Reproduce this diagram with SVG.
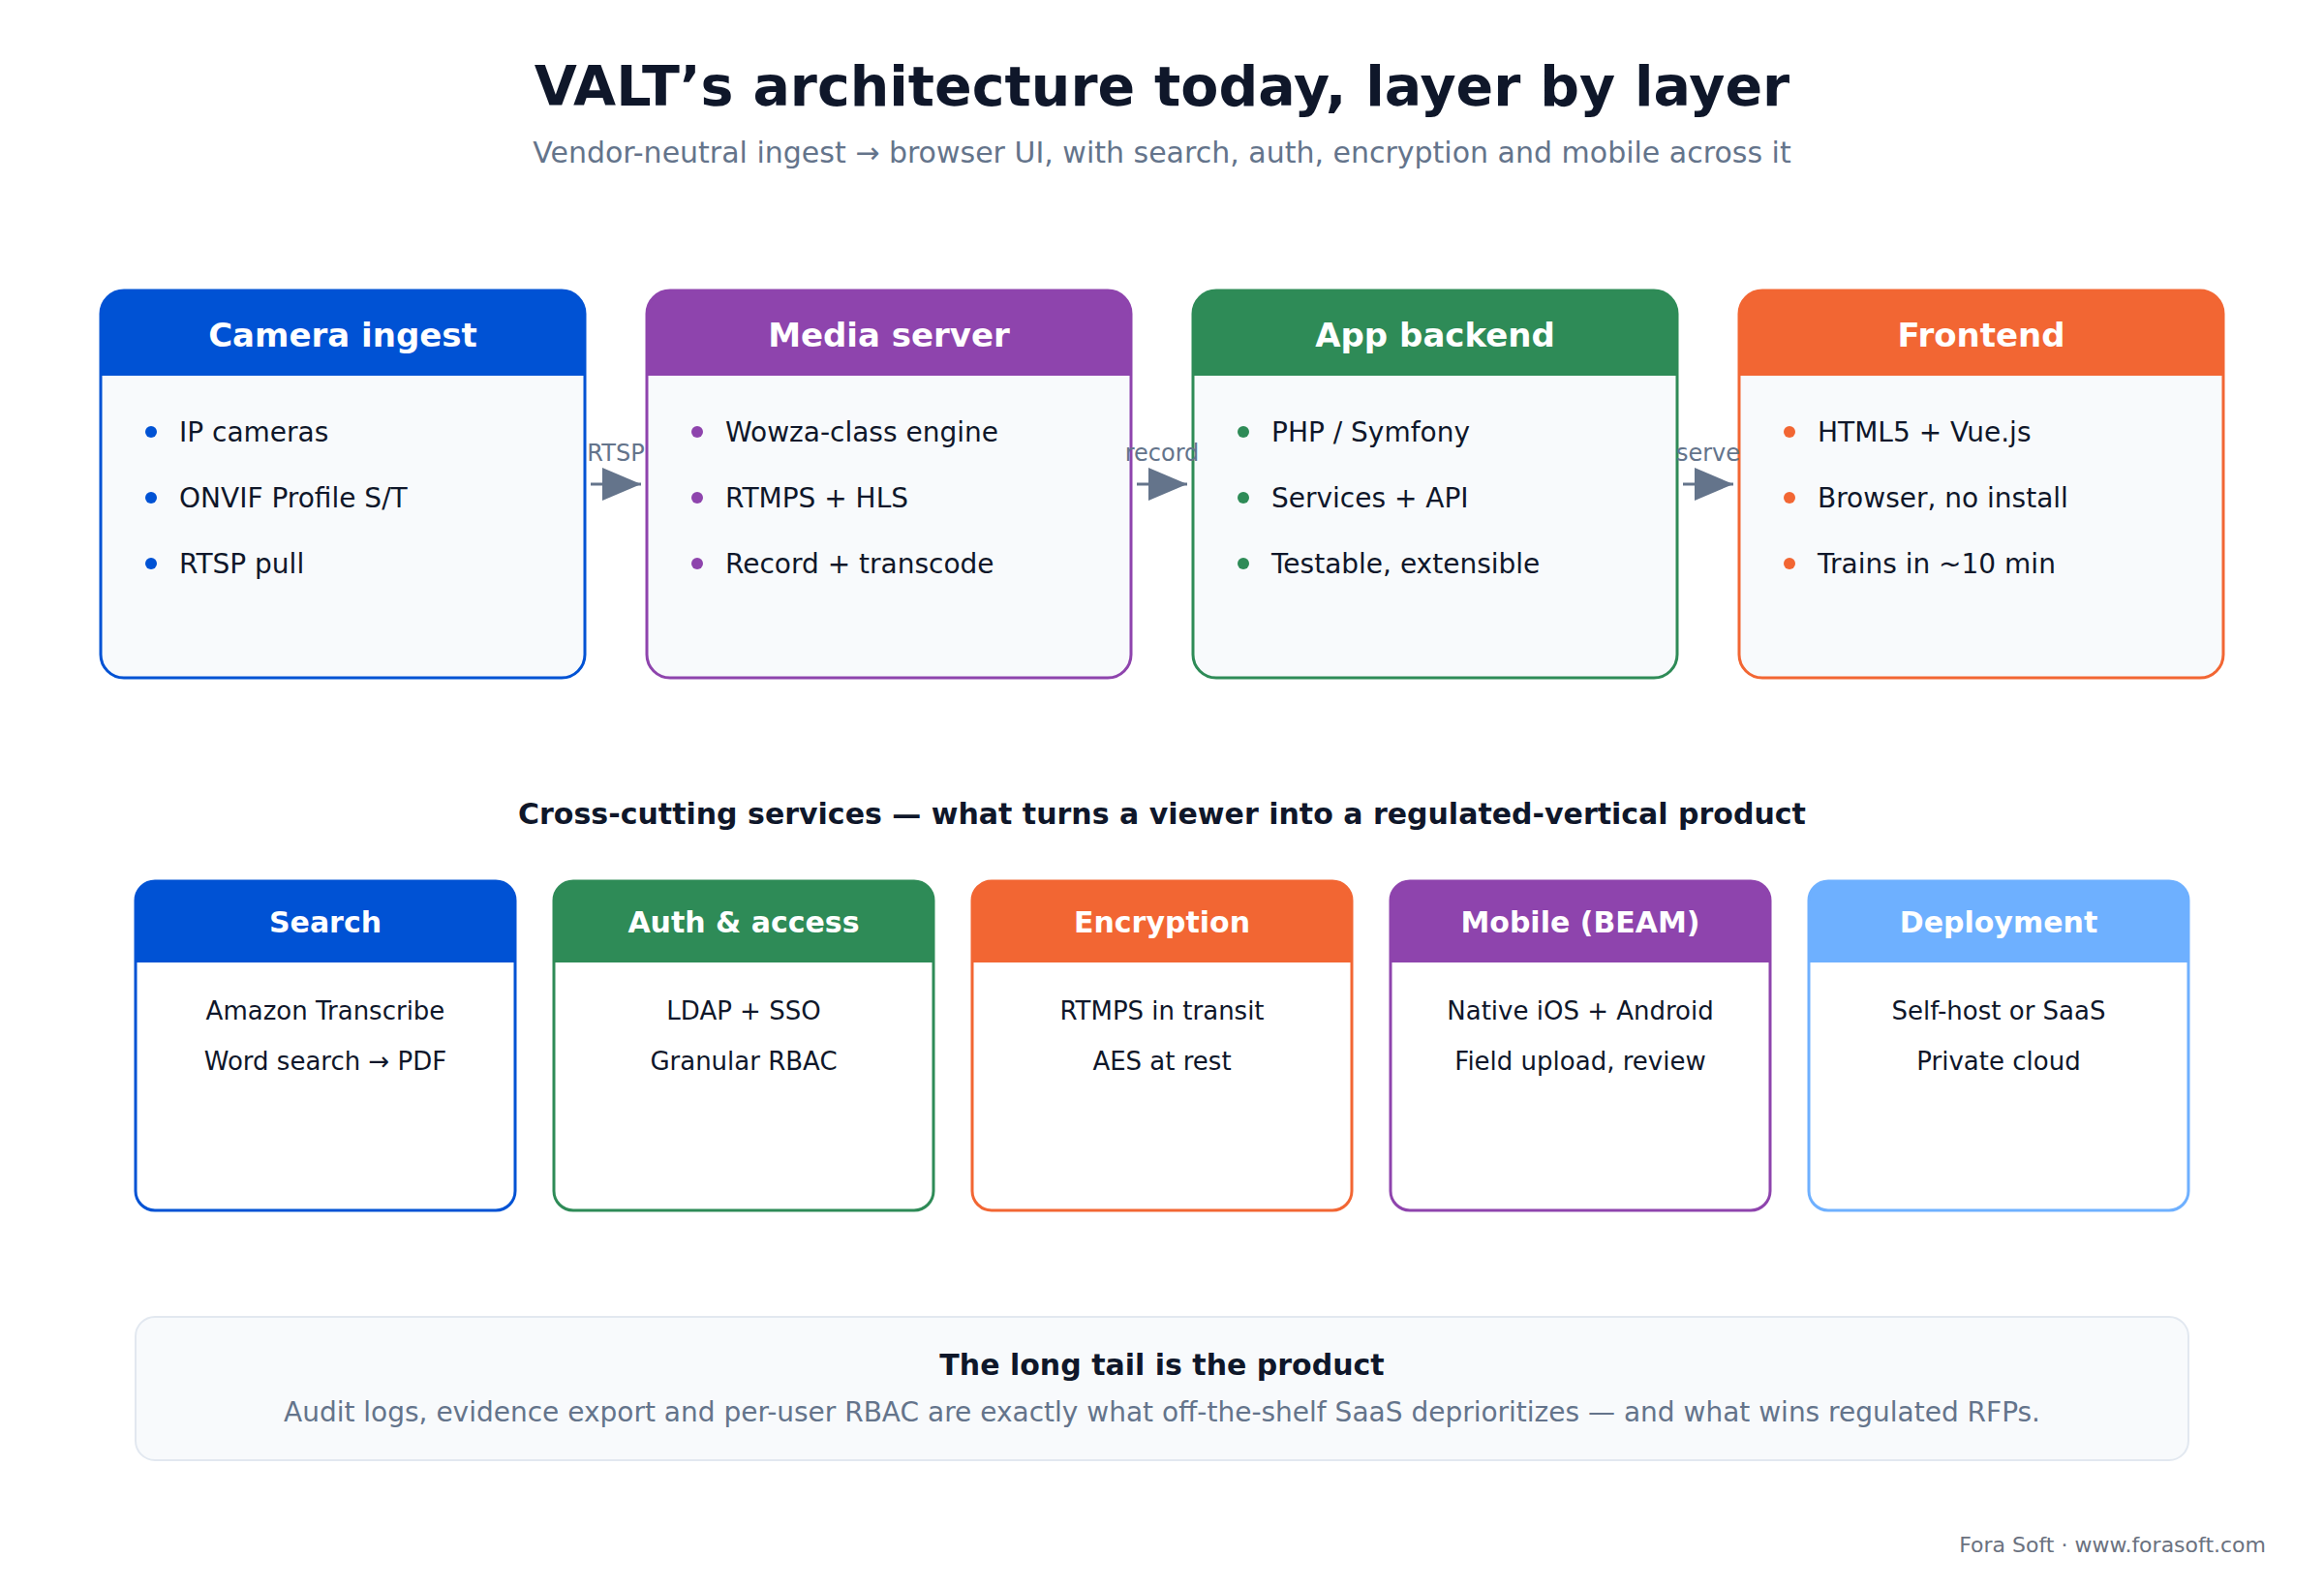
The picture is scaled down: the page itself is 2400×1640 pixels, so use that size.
<svg xmlns="http://www.w3.org/2000/svg" width="2400" height="1640" viewBox="0 0 2400 1640">
<style>
text{font-family:"DejaVu Sans","Noto Sans",sans-serif}
.title{font-size:57px;font-weight:bold;fill:#0f172a;text-anchor:middle}
.sub{font-size:30px;fill:#64748b;text-anchor:middle}
.body{fill:#f8fafc}
.hdr{font-size:34px;font-weight:bold;fill:#ffffff;text-anchor:middle}
.item{font-size:28px;fill:#0f172a}
.shdr{font-size:30px;font-weight:bold;fill:#ffffff;text-anchor:middle}
.sitem{font-size:26px;fill:#0f172a;text-anchor:middle}
.lbl{font-size:24px;fill:#64748b;text-anchor:middle}
.conn{stroke:#64748b;stroke-width:3;fill:none}
.sect{font-size:30px;font-weight:bold;fill:#0f172a;text-anchor:middle}
.foot{font-size:22px;fill:#6b7280;text-anchor:end}
</style>
<defs>
<marker id="arrow" markerUnits="userSpaceOnUse" markerWidth="40" markerHeight="34" viewBox="0 0 40 34" refX="40" refY="17" orient="auto">
<path d="M0,0 L40,17 L0,34 Z" fill="#64748b"/>
</marker>
</defs>
<rect width="2400" height="1640" fill="#ffffff"/>
<text class="title" x="1200" y="109">VALT’s architecture today, layer by layer</text>
<text class="sub" x="1200" y="168">Vendor-neutral ingest → browser UI, with search, auth, encryption and mobile across it</text>

<g id="camera-ingest" transform="translate(104,300)">
<rect class="body" x="0" y="0" width="500" height="400" rx="24"/>
<path d="M0,88 V24 A24,24 0 0 1 24,0 H476 A24,24 0 0 1 500,24 V88 Z" fill="#0052d4"/>
<rect x="0" y="0" width="500" height="400" rx="24" fill="none" stroke="#0052d4" stroke-width="3"/>
<text class="hdr" x="250" y="58">Camera ingest</text>
<circle cx="52" cy="146" r="6" fill="#0052d4"/><text class="item" x="81" y="156">IP cameras</text>
<circle cx="52" cy="214" r="6" fill="#0052d4"/><text class="item" x="81" y="224">ONVIF Profile S/T</text>
<circle cx="52" cy="282" r="6" fill="#0052d4"/><text class="item" x="81" y="292">RTSP pull</text>
</g>

<g id="media-server" transform="translate(668,300)">
<rect class="body" x="0" y="0" width="500" height="400" rx="24"/>
<path d="M0,88 V24 A24,24 0 0 1 24,0 H476 A24,24 0 0 1 500,24 V88 Z" fill="#8e44ad"/>
<rect x="0" y="0" width="500" height="400" rx="24" fill="none" stroke="#8e44ad" stroke-width="3"/>
<text class="hdr" x="250" y="58">Media server</text>
<circle cx="52" cy="146" r="6" fill="#8e44ad"/><text class="item" x="81" y="156">Wowza-class engine</text>
<circle cx="52" cy="214" r="6" fill="#8e44ad"/><text class="item" x="81" y="224">RTMPS + HLS</text>
<circle cx="52" cy="282" r="6" fill="#8e44ad"/><text class="item" x="81" y="292">Record + transcode</text>
</g>

<g id="app-backend" transform="translate(1232,300)">
<rect class="body" x="0" y="0" width="500" height="400" rx="24"/>
<path d="M0,88 V24 A24,24 0 0 1 24,0 H476 A24,24 0 0 1 500,24 V88 Z" fill="#2e8b57"/>
<rect x="0" y="0" width="500" height="400" rx="24" fill="none" stroke="#2e8b57" stroke-width="3"/>
<text class="hdr" x="250" y="58">App backend</text>
<circle cx="52" cy="146" r="6" fill="#2e8b57"/><text class="item" x="81" y="156">PHP / Symfony</text>
<circle cx="52" cy="214" r="6" fill="#2e8b57"/><text class="item" x="81" y="224">Services + API</text>
<circle cx="52" cy="282" r="6" fill="#2e8b57"/><text class="item" x="81" y="292">Testable, extensible</text>
</g>

<g id="frontend" transform="translate(1796,300)">
<rect class="body" x="0" y="0" width="500" height="400" rx="24"/>
<path d="M0,88 V24 A24,24 0 0 1 24,0 H476 A24,24 0 0 1 500,24 V88 Z" fill="#f26633"/>
<rect x="0" y="0" width="500" height="400" rx="24" fill="none" stroke="#f26633" stroke-width="3"/>
<text class="hdr" x="250" y="58">Frontend</text>
<circle cx="52" cy="146" r="6" fill="#f26633"/><text class="item" x="81" y="156">HTML5 + Vue.js</text>
<circle cx="52" cy="214" r="6" fill="#f26633"/><text class="item" x="81" y="224">Browser, no install</text>
<circle cx="52" cy="282" r="6" fill="#f26633"/><text class="item" x="81" y="292">Trains in ~10 min</text>
</g>

<g id="connectors">
<line class="conn" x1="610" y1="500" x2="662" y2="500" marker-end="url(#arrow)"/>
<text class="lbl" x="636" y="476">RTSP</text>
<line class="conn" x1="1174" y1="500" x2="1226" y2="500" marker-end="url(#arrow)"/>
<text class="lbl" x="1200" y="476">record</text>
<line class="conn" x1="1738" y1="500" x2="1790" y2="500" marker-end="url(#arrow)"/>
<text class="lbl" x="1764" y="476">serve</text>
</g>

<text class="sect" x="1200" y="851">Cross-cutting services — what turns a viewer into a regulated-vertical product</text>

<g id="search" transform="translate(140,910)">
<rect x="0" y="0" width="392" height="340" rx="20" fill="#ffffff"/>
<path d="M0,84 V20 A20,20 0 0 1 20,0 H372 A20,20 0 0 1 392,20 V84 Z" fill="#0052d4"/>
<rect x="0" y="0" width="392" height="340" rx="20" fill="none" stroke="#0052d4" stroke-width="3"/>
<text class="shdr" x="196" y="53">Search</text>
<text class="sitem" x="196" y="143">Amazon Transcribe</text>
<text class="sitem" x="196" y="195">Word search → PDF</text>
</g>

<g id="auth-access" transform="translate(572,910)">
<rect x="0" y="0" width="392" height="340" rx="20" fill="#ffffff"/>
<path d="M0,84 V20 A20,20 0 0 1 20,0 H372 A20,20 0 0 1 392,20 V84 Z" fill="#2e8b57"/>
<rect x="0" y="0" width="392" height="340" rx="20" fill="none" stroke="#2e8b57" stroke-width="3"/>
<text class="shdr" x="196" y="53">Auth &amp; access</text>
<text class="sitem" x="196" y="143">LDAP + SSO</text>
<text class="sitem" x="196" y="195">Granular RBAC</text>
</g>

<g id="encryption" transform="translate(1004,910)">
<rect x="0" y="0" width="392" height="340" rx="20" fill="#ffffff"/>
<path d="M0,84 V20 A20,20 0 0 1 20,0 H372 A20,20 0 0 1 392,20 V84 Z" fill="#f26633"/>
<rect x="0" y="0" width="392" height="340" rx="20" fill="none" stroke="#f26633" stroke-width="3"/>
<text class="shdr" x="196" y="53">Encryption</text>
<text class="sitem" x="196" y="143">RTMPS in transit</text>
<text class="sitem" x="196" y="195">AES at rest</text>
</g>

<g id="mobile-beam" transform="translate(1436,910)">
<rect x="0" y="0" width="392" height="340" rx="20" fill="#ffffff"/>
<path d="M0,84 V20 A20,20 0 0 1 20,0 H372 A20,20 0 0 1 392,20 V84 Z" fill="#8e44ad"/>
<rect x="0" y="0" width="392" height="340" rx="20" fill="none" stroke="#8e44ad" stroke-width="3"/>
<text class="shdr" x="196" y="53">Mobile (BEAM)</text>
<text class="sitem" x="196" y="143">Native iOS + Android</text>
<text class="sitem" x="196" y="195">Field upload, review</text>
</g>

<g id="deployment" transform="translate(1868,910)">
<rect x="0" y="0" width="392" height="340" rx="20" fill="#ffffff"/>
<path d="M0,84 V20 A20,20 0 0 1 20,0 H372 A20,20 0 0 1 392,20 V84 Z" fill="#6eb0ff"/>
<rect x="0" y="0" width="392" height="340" rx="20" fill="none" stroke="#6eb0ff" stroke-width="3"/>
<text class="shdr" x="196" y="53">Deployment</text>
<text class="sitem" x="196" y="143">Self-host or SaaS</text>
<text class="sitem" x="196" y="195">Private cloud</text>
</g>

<g id="long-tail">
<rect x="140" y="1360" width="2120" height="148" rx="20" fill="#f8fafc" stroke="#e2e8f0" stroke-width="2"/>
<text class="sect" x="1200" y="1420">The long tail is the product</text>
<text class="sub" style="font-size:28px" x="1200" y="1468">Audit logs, evidence export and per-user RBAC are exactly what off-the-shelf SaaS deprioritizes — and what wins regulated RFPs.</text>
</g>

<text class="foot" x="2340" y="1603">Fora Soft · www.forasoft.com</text>
</svg>
